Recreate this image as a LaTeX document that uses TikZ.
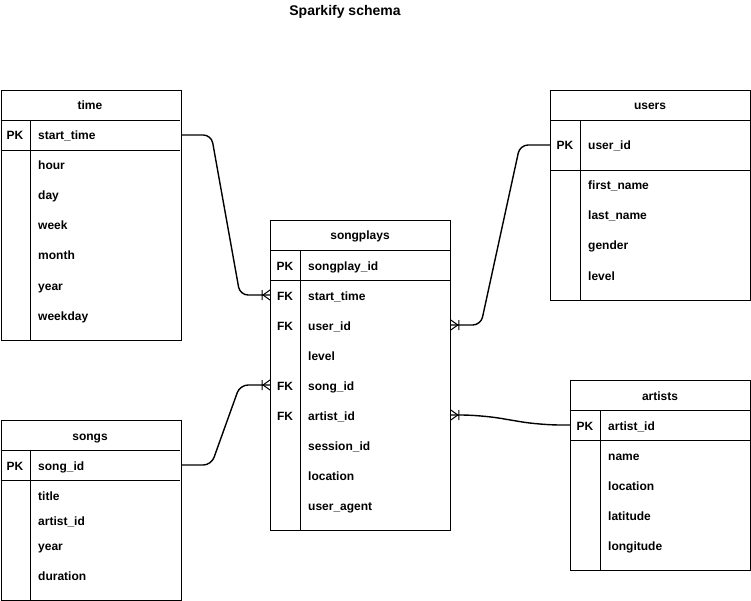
\documentclass[tikz,border=0pt]{standalone}
\usepackage{fontspec}
\setmainfont{Liberation Sans}
\usetikzlibrary{calc,positioning}
\tikzset{
  tbl/.style={draw,line width=0.8pt,anchor=north west,inner sep=0pt},
  txt/.style={inner sep=0pt,text height=11pt,text depth=1pt,font=\bfseries\fontsize{12}{14}\selectfont},
  fld/.style={txt,anchor=west},
  ttl/.style={inner sep=0pt,font=\bfseries\fontsize{14}{16}\selectfont},
  rule/.style={line width=0.8pt},
  rel/.style={line width=1.4pt,rounded corners=8pt},
  crow/.pic={\draw[line width=1pt] (-8,-5) -- (-8,5) (0,-5) -- (-7,0) -- (0,5);}
}
\begin{document}
\begin{tikzpicture}[x=1pt,y=-1pt]
\useasboundingbox (0,0) rectangle (751,601);
\node[ttl] (title) at (345,12) {Sparkify schema};

% time
\node[tbl,minimum width=180pt,minimum height=250pt] (time) at (0.5,90) {};
\node[txt] (time-h) at (90,105) {time};
\draw[rule] (0.5,120) -- (180,120) (0.5,150) -- (180,150) (30,120) -- (30,340);
\node[txt] at (15,135) {PK};
\node[fld] (time-pk) at (38,135) {start\_time};
\foreach \t/\y [count=\i] in {hour/165,day/195,week/225,month/255,year/285,weekday/315}
  \node[fld] (time-\i) at (38,\y) {\t};

% users
\node[tbl,minimum width=200pt,minimum height=210pt] (users) at (550,90) {};
\node[txt] (users-h) at (650,105) {users};
\draw[rule] (550,120) -- (750,120) (550,170) -- (750,170) (580,120) -- (580,300);
\node[txt] at (565,145) {PK};
\node[fld] (users-pk) at (588,145) {user\_id};
\foreach \t/\y [count=\i] in {first\_name/185,last\_name/215,gender/245,level/275}
  \node[fld] (users-\i) at (588,\y) {\t};

% songplays
\node[tbl,minimum width=180pt,minimum height=310pt] (songplays) at (270,220) {};
\node[txt] (sp-h) at (360,235) {songplays};
\draw[rule] (270,250) -- (450,250) (270,280) -- (450,280) (300,250) -- (300,530);
\node[txt] at (285,265) {PK};
\node[fld] (sp-pk) at (308,265) {songplay\_id};
\foreach \t/\y [count=\i] in {start\_time/295,user\_id/325,level/355,song\_id/385,artist\_id/415,session\_id/445,location/475,user\_agent/505}
  \node[fld] (sp-\i) at (308,\y) {\t};
\foreach \i in {1,2,4,5}
  \node[txt] at (285,0 |- sp-\i) {FK};

% songs
\node[tbl,minimum width=180pt,minimum height=180pt] (songs) at (0.5,420) {};
\node[txt] (songs-h) at (90,435) {songs};
\draw[rule] (0.5,450) -- (180,450) (0.5,480) -- (180,480) (30,450) -- (30,600);
\node[txt] at (15,465) {PK};
\node[fld] (songs-pk) at (38,465) {song\_id};
\foreach \t/\y [count=\i] in {title/495,artist\_id/520,year/545,duration/575}
  \node[fld] (songs-\i) at (38,\y) {\t};

% artists
\node[tbl,minimum width=180pt,minimum height=190pt] (artists) at (570,380) {};
\node[txt] (art-h) at (660,395) {artists};
\draw[rule] (570,410) -- (750,410) (570,440) -- (750,440) (600,410) -- (600,570);
\node[txt] at (585,425) {PK};
\node[fld] (art-pk) at (608,425) {artist\_id};
\foreach \t/\y [count=\i] in {name/455,location/485,latitude/515,longitude/545}
  \node[fld] (art-\i) at (608,\y) {\t};

% relations
\draw[rel] (time.east |- time-pk) -- ++(30,0) -- ($(songplays.west |- sp-1)+(-30,0)$) -- (songplays.west |- sp-1);
\draw[rel] (users.west |- users-pk) -- ++(-30,0) -- ($(songplays.east |- sp-2)+(30,0)$) -- (songplays.east |- sp-2);
\draw[rel] (songs.east |- songs-pk) -- ++(30,0) -- ($(songplays.west |- sp-4)+(-30,0)$) -- (songplays.west |- sp-4);
\draw[rel,rounded corners=20pt] (artists.west |- art-pk) -- ++(-30,0) -- ($(songplays.east |- sp-5)+(30,0)$) -- (songplays.east |- sp-5);
\pic at (songplays.west |- sp-1) {crow};
\pic at (songplays.west |- sp-4) {crow};
\pic[rotate=180] at (songplays.east |- sp-2) {crow};
\pic[rotate=180] at (songplays.east |- sp-5) {crow};
\end{tikzpicture}
\end{document}
